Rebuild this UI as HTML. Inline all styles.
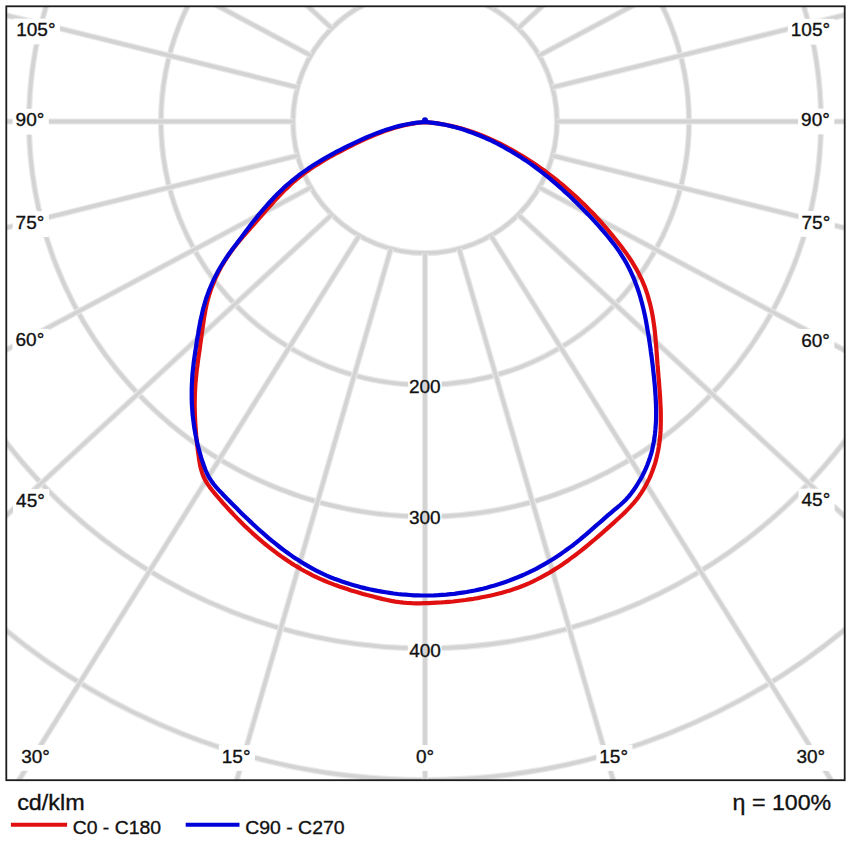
<!DOCTYPE html><html><head><meta charset="utf-8"><style>html,body{margin:0;padding:0;background:#fff;width:848px;height:848px;overflow:hidden}svg{display:block}text{font-family:"Liberation Sans",sans-serif;fill:#111;stroke:#111;stroke-width:0.35px}</style></head><body>
<svg width="848" height="848" viewBox="0 0 848 848">
<defs><clipPath id="c"><rect x="6.3" y="6.3" width="838.4000000000001" height="773.9000000000001"/></clipPath></defs>
<rect width="848" height="848" fill="#fff"/>
<g clip-path="url(#c)">
<g fill="none" stroke="#e9e9e9" stroke-width="6.2"><ellipse cx="425.0" cy="121.5" rx="132.0" ry="131.7"/><ellipse cx="425.0" cy="121.5" rx="264.0" ry="263.4"/><ellipse cx="425.0" cy="121.5" rx="396.0" ry="395.1"/><ellipse cx="425.0" cy="121.5" rx="528.0" ry="526.8"/><ellipse cx="425.0" cy="121.5" rx="660.0" ry="658.5"/><ellipse cx="425.0" cy="121.5" rx="792.0" ry="790.2"/></g>
<g fill="none" stroke="#d3d3d3" stroke-width="3.8"><ellipse cx="425.0" cy="121.5" rx="132.0" ry="131.7"/><ellipse cx="425.0" cy="121.5" rx="264.0" ry="263.4"/><ellipse cx="425.0" cy="121.5" rx="396.0" ry="395.1"/><ellipse cx="425.0" cy="121.5" rx="528.0" ry="526.8"/><ellipse cx="425.0" cy="121.5" rx="660.0" ry="658.5"/><ellipse cx="425.0" cy="121.5" rx="792.0" ry="790.2"/></g>
<rect x="408.2" y="377.7" width="33.4" height="18.2" fill="#fff"/>
<rect x="408.2" y="508.5" width="33.4" height="18.7" fill="#fff"/>
<rect x="407.8" y="641.0" width="33.8" height="18.2" fill="#fff"/>
<g fill="none" stroke="#e9e9e9" stroke-width="6.2"><line x1="425.00" y1="253.30" x2="425.00" y2="1639.30"/><line x1="390.89" y1="248.81" x2="2.66" y2="1587.58"/><line x1="459.11" y1="248.81" x2="847.34" y2="1587.58"/><line x1="359.10" y1="235.64" x2="-390.90" y2="1435.95"/><line x1="490.90" y1="235.64" x2="1240.90" y2="1435.95"/><line x1="331.80" y1="214.70" x2="-728.86" y2="1194.75"/><line x1="518.20" y1="214.70" x2="1578.86" y2="1194.75"/><line x1="310.86" y1="187.40" x2="-988.18" y2="880.40"/><line x1="539.14" y1="187.40" x2="1838.18" y2="880.40"/><line x1="297.69" y1="155.61" x2="-1151.20" y2="514.34"/><line x1="552.31" y1="155.61" x2="2001.20" y2="514.34"/><line x1="293.20" y1="121.50" x2="-1206.80" y2="121.50"/><line x1="556.80" y1="121.50" x2="2056.80" y2="121.50"/><line x1="297.69" y1="87.39" x2="-1151.20" y2="-271.34"/><line x1="552.31" y1="87.39" x2="2001.20" y2="-271.34"/><line x1="310.86" y1="55.60" x2="-988.18" y2="-637.40"/><line x1="539.14" y1="55.60" x2="1838.18" y2="-637.40"/><line x1="331.80" y1="28.30" x2="-728.86" y2="-951.75"/><line x1="518.20" y1="28.30" x2="1578.86" y2="-951.75"/><line x1="359.10" y1="7.36" x2="-390.90" y2="-1192.95"/><line x1="490.90" y1="7.36" x2="1240.90" y2="-1192.95"/><line x1="390.89" y1="-5.81" x2="2.66" y2="-1344.58"/><line x1="459.11" y1="-5.81" x2="847.34" y2="-1344.58"/><line x1="425.00" y1="-10.30" x2="425.00" y2="-1396.30"/></g>
<g fill="none" stroke="#d3d3d3" stroke-width="3.8"><line x1="425.00" y1="253.30" x2="425.00" y2="1639.30"/><line x1="390.89" y1="248.81" x2="2.66" y2="1587.58"/><line x1="459.11" y1="248.81" x2="847.34" y2="1587.58"/><line x1="359.10" y1="235.64" x2="-390.90" y2="1435.95"/><line x1="490.90" y1="235.64" x2="1240.90" y2="1435.95"/><line x1="331.80" y1="214.70" x2="-728.86" y2="1194.75"/><line x1="518.20" y1="214.70" x2="1578.86" y2="1194.75"/><line x1="310.86" y1="187.40" x2="-988.18" y2="880.40"/><line x1="539.14" y1="187.40" x2="1838.18" y2="880.40"/><line x1="297.69" y1="155.61" x2="-1151.20" y2="514.34"/><line x1="552.31" y1="155.61" x2="2001.20" y2="514.34"/><line x1="293.20" y1="121.50" x2="-1206.80" y2="121.50"/><line x1="556.80" y1="121.50" x2="2056.80" y2="121.50"/><line x1="297.69" y1="87.39" x2="-1151.20" y2="-271.34"/><line x1="552.31" y1="87.39" x2="2001.20" y2="-271.34"/><line x1="310.86" y1="55.60" x2="-988.18" y2="-637.40"/><line x1="539.14" y1="55.60" x2="1838.18" y2="-637.40"/><line x1="331.80" y1="28.30" x2="-728.86" y2="-951.75"/><line x1="518.20" y1="28.30" x2="1578.86" y2="-951.75"/><line x1="359.10" y1="7.36" x2="-390.90" y2="-1192.95"/><line x1="490.90" y1="7.36" x2="1240.90" y2="-1192.95"/><line x1="390.89" y1="-5.81" x2="2.66" y2="-1344.58"/><line x1="459.11" y1="-5.81" x2="847.34" y2="-1344.58"/><line x1="425.00" y1="-10.30" x2="425.00" y2="-1396.30"/></g>
<rect x="13.2" y="18.6" width="46.8" height="25.8" fill="#fff"/>
<rect x="12.6" y="108.8" width="36.2" height="25.8" fill="#fff"/>
<rect x="12.6" y="211.2" width="36.2" height="25.8" fill="#fff"/>
<rect x="12.5" y="328.8" width="36.2" height="25.8" fill="#fff"/>
<rect x="13.1" y="489.0" width="36.2" height="25.8" fill="#fff"/>
<rect x="18.2" y="745.0" width="36.2" height="25.8" fill="#fff"/>
<rect x="218.8" y="745.0" width="36.2" height="25.8" fill="#fff"/>
<rect x="413.0" y="745.1" width="25.7" height="25.8" fill="#fff"/>
<rect x="787.8" y="18.8" width="46.8" height="25.8" fill="#fff"/>
<rect x="798.1" y="108.6" width="36.2" height="25.8" fill="#fff"/>
<rect x="798.5" y="211.0" width="36.2" height="25.8" fill="#fff"/>
<rect x="798.2" y="328.9" width="36.2" height="25.8" fill="#fff"/>
<rect x="798.5" y="488.7" width="36.2" height="25.8" fill="#fff"/>
<rect x="793.4" y="745.1" width="36.2" height="25.8" fill="#fff"/>
<rect x="596.3" y="745.1" width="36.2" height="25.8" fill="#fff"/>
</g>
<text x="408.9" y="393.3" font-size="19">200</text>
<text x="408.9" y="524.4" font-size="19">300</text>
<text x="409.2" y="656.6" font-size="19">400</text>
<text x="16.2" y="36.2" font-size="19">105°</text>
<text x="15.6" y="126.4" font-size="19">90°</text>
<text x="15.6" y="228.8" font-size="19">75°</text>
<text x="15.5" y="346.4" font-size="19">60°</text>
<text x="16.1" y="506.6" font-size="19">45°</text>
<text x="21.2" y="762.6" font-size="19">30°</text>
<text x="221.8" y="762.6" font-size="19">15°</text>
<text x="416.0" y="762.7" font-size="19">0°</text>
<text x="790.8" y="36.4" font-size="19">105°</text>
<text x="801.1" y="126.2" font-size="19">90°</text>
<text x="801.5" y="228.6" font-size="19">75°</text>
<text x="801.2" y="346.5" font-size="19">60°</text>
<text x="801.5" y="506.3" font-size="19">45°</text>
<text x="796.4" y="762.8" font-size="19">30°</text>
<text x="599.3" y="762.8" font-size="19">15°</text>
<polyline points="425.0,122.2 420.8,122.5 416.7,123.0 412.6,123.6 408.5,124.4 404.5,125.2 400.5,126.2 396.5,127.3 392.5,128.5 388.6,129.7 384.7,131.1 380.9,132.5 377.0,134.0 373.2,135.6 369.4,137.2 365.6,138.9 361.8,140.6 358.1,142.4 354.3,144.2 350.6,146.1 346.9,148.0 343.2,149.8 339.5,151.8 335.8,153.7 332.2,155.7 328.5,157.7 325.0,159.8 321.4,161.9 317.9,164.1 314.4,166.3 311.0,168.6 307.6,170.9 304.2,173.3 301.0,175.8 297.8,178.4 294.6,181.0 291.5,183.8 288.5,186.6 285.5,189.4 282.6,192.4 279.7,195.3 276.9,198.4 274.0,201.4 271.3,204.5 268.5,207.6 265.7,210.7 263.0,213.9 260.2,217.0 257.5,220.1 254.7,223.3 252.0,226.4 249.2,229.5 246.5,232.6 243.8,235.7 241.1,238.9 238.4,242.0 235.9,245.3 233.3,248.5 230.9,251.8 228.5,255.2 226.2,258.6 224.0,262.1 221.9,265.6 219.9,269.3 218.0,273.0 216.2,276.7 214.5,280.5 212.9,284.4 211.4,288.2 210.1,292.2 208.8,296.1 207.7,300.1 206.7,304.1 205.8,308.2 205.1,312.2 204.3,316.3 203.7,320.4 203.1,324.5 202.5,328.6 201.9,332.7 201.4,336.8 200.8,340.9 200.2,345.0 199.7,349.1 199.1,353.2 198.5,357.3 197.9,361.4 197.4,365.6 196.8,369.7 196.4,373.8 196.0,377.9 195.6,382.0 195.3,386.1 195.1,390.2 194.9,394.4 194.8,398.5 194.7,402.6 194.7,406.7 194.8,410.9 194.9,415.0 195.1,419.1 195.3,423.3 195.6,427.4 195.9,431.5 196.2,435.7 196.6,439.8 197.1,444.0 197.6,448.1 198.1,452.3 198.7,456.4 199.3,460.6 200.0,464.7 200.9,468.7 202.1,472.7 203.5,476.5 205.2,480.1 207.3,483.6 209.6,486.9 212.1,490.2 214.7,493.4 217.3,496.5 220.1,499.7 222.8,502.8 225.6,505.9 228.4,509.0 231.2,512.0 234.1,515.1 237.0,518.1 239.9,521.0 242.8,524.0 245.8,526.9 248.9,529.7 251.9,532.6 255.0,535.4 258.1,538.1 261.3,540.8 264.4,543.5 267.7,546.1 270.9,548.7 274.2,551.2 277.5,553.7 280.9,556.1 284.3,558.5 287.7,560.8 291.1,563.1 294.6,565.3 298.2,567.4 301.7,569.5 305.3,571.5 309.0,573.4 312.6,575.3 316.3,577.1 320.1,578.9 323.9,580.5 327.7,582.1 331.5,583.6 335.4,585.1 339.3,586.5 343.2,587.8 347.2,589.1 351.1,590.4 355.1,591.6 359.1,592.7 363.1,593.9 367.1,595.0 371.1,596.0 375.1,597.1 379.1,598.1 383.1,599.1 387.2,600.0 391.2,600.9 395.3,601.6 399.4,602.2 403.5,602.7 407.6,603.0 411.8,603.2 415.9,603.3 420.0,603.3 424.2,603.2 428.3,603.1 432.5,602.9 436.6,602.7 440.7,602.5 444.9,602.2 449.0,601.8 453.1,601.5 457.2,601.0 461.3,600.5 465.4,600.0 469.5,599.4 473.6,598.8 477.7,598.1 481.8,597.3 485.9,596.5 489.9,595.7 494.0,594.8 498.0,593.8 502.1,592.7 506.1,591.6 510.0,590.4 514.0,589.1 517.9,587.7 521.8,586.2 525.6,584.7 529.4,583.1 533.1,581.4 536.8,579.5 540.5,577.7 544.1,575.7 547.7,573.7 551.2,571.6 554.7,569.4 558.2,567.2 561.7,564.9 565.1,562.6 568.5,560.2 571.8,557.7 575.2,555.2 578.5,552.7 581.7,550.1 585.0,547.5 588.2,544.9 591.4,542.2 594.6,539.5 597.7,536.8 600.9,534.1 604.0,531.4 607.1,528.6 610.2,525.9 613.3,523.1 616.4,520.3 619.4,517.5 622.4,514.7 625.4,511.9 628.3,508.9 631.1,505.9 633.8,502.9 636.4,499.7 638.9,496.4 641.3,492.9 643.5,489.4 645.6,485.8 647.5,482.1 649.4,478.4 651.0,474.6 652.5,470.7 653.9,466.8 655.2,462.9 656.3,458.9 657.2,454.9 658.1,450.9 658.8,446.8 659.4,442.7 659.9,438.6 660.3,434.5 660.6,430.4 660.7,426.2 660.8,422.1 660.8,417.9 660.8,413.8 660.7,409.6 660.5,405.5 660.3,401.3 660.1,397.2 659.8,393.0 659.5,388.9 659.2,384.8 658.9,380.7 658.5,376.6 658.2,372.4 657.9,368.3 657.5,364.2 657.2,360.1 656.9,356.0 656.6,351.8 656.3,347.7 655.9,343.6 655.6,339.4 655.2,335.3 654.8,331.2 654.3,327.0 653.7,322.9 653.1,318.8 652.4,314.7 651.6,310.7 650.7,306.6 649.7,302.6 648.6,298.6 647.5,294.7 646.2,290.8 644.8,286.9 643.2,283.1 641.6,279.3 639.8,275.6 637.9,271.9 635.9,268.3 633.8,264.8 631.6,261.2 629.3,257.8 627.0,254.3 624.5,251.0 622.0,247.6 619.5,244.3 616.9,241.0 614.3,237.8 611.7,234.5 609.0,231.3 606.3,228.2 603.6,225.0 600.9,221.9 598.1,218.9 595.3,215.8 592.4,212.8 589.5,209.9 586.6,206.9 583.7,204.0 580.7,201.2 577.7,198.3 574.7,195.5 571.6,192.8 568.5,190.0 565.4,187.4 562.3,184.7 559.1,182.1 555.9,179.5 552.6,177.0 549.3,174.4 546.0,172.0 542.7,169.5 539.3,167.2 535.9,164.8 532.5,162.5 529.0,160.2 525.5,158.0 522.0,155.8 518.4,153.7 514.8,151.6 511.2,149.5 507.5,147.5 503.9,145.6 500.2,143.7 496.4,141.9 492.6,140.1 488.9,138.4 485.0,136.8 481.2,135.2 477.3,133.7 473.4,132.3 469.5,131.0 465.6,129.7 461.6,128.5 457.6,127.4 453.6,126.5 449.6,125.5 445.5,124.7 441.5,124.0 437.4,123.4 433.3,122.9 429.1,122.5 425.0,122.2" fill="none" stroke="#e01010" stroke-width="4.2" stroke-linejoin="round" stroke-linecap="round"/>
<polyline points="425.0,122.0 420.9,122.3 416.8,122.7 412.7,123.3 408.7,124.0 404.7,124.8 400.8,125.6 396.8,126.6 392.9,127.7 389.0,128.9 385.2,130.1 381.4,131.5 377.5,132.9 373.8,134.4 370.0,135.9 366.2,137.5 362.5,139.2 358.8,140.9 355.1,142.6 351.4,144.4 347.7,146.2 344.1,148.0 340.4,149.8 336.8,151.7 333.2,153.6 329.6,155.6 326.0,157.6 322.5,159.6 319.0,161.7 315.6,163.8 312.1,166.0 308.7,168.3 305.4,170.6 302.1,172.9 298.8,175.3 295.6,177.8 292.4,180.4 289.3,183.0 286.2,185.7 283.2,188.4 280.3,191.2 277.4,194.1 274.5,197.0 271.7,200.0 268.9,203.0 266.2,206.1 263.5,209.2 260.8,212.3 258.2,215.4 255.7,218.6 253.1,221.8 250.6,225.0 248.2,228.2 245.7,231.5 243.3,234.7 240.9,238.0 238.4,241.2 236.0,244.4 233.5,247.7 231.1,251.0 228.7,254.3 226.4,257.7 224.1,261.1 222.0,264.5 219.9,268.0 217.9,271.6 216.0,275.2 214.1,278.9 212.4,282.6 210.8,286.3 209.2,290.1 207.8,293.9 206.4,297.7 205.2,301.6 204.1,305.5 203.0,309.4 202.1,313.4 201.2,317.4 200.3,321.3 199.6,325.3 198.8,329.4 198.2,333.4 197.5,337.4 196.8,341.4 196.2,345.5 195.6,349.5 195.0,353.6 194.4,357.6 193.8,361.7 193.4,365.7 192.9,369.8 192.5,373.8 192.2,377.9 192.0,382.0 191.8,386.0 191.7,390.1 191.7,394.2 191.7,398.2 191.8,402.3 192.0,406.4 192.3,410.4 192.6,414.5 193.1,418.5 193.6,422.5 194.1,426.6 194.8,430.6 195.5,434.6 196.3,438.6 197.2,442.6 198.1,446.6 199.2,450.5 200.3,454.5 201.4,458.4 202.7,462.3 204.1,466.2 205.5,470.0 207.1,473.8 209.0,477.3 211.2,480.7 213.5,484.0 216.1,487.1 218.8,490.1 221.6,493.0 224.4,496.0 227.3,498.9 230.1,501.8 233.0,504.7 235.9,507.6 238.8,510.5 241.7,513.4 244.6,516.2 247.6,519.1 250.6,521.9 253.6,524.7 256.6,527.5 259.6,530.2 262.7,532.9 265.8,535.6 268.9,538.3 272.0,540.9 275.2,543.4 278.4,546.0 281.6,548.5 284.8,550.9 288.1,553.3 291.4,555.6 294.8,557.9 298.2,560.1 301.6,562.3 305.1,564.4 308.6,566.4 312.1,568.4 315.7,570.3 319.3,572.1 323.0,573.9 326.7,575.6 330.4,577.2 334.2,578.7 338.1,580.1 341.9,581.5 345.8,582.8 349.8,584.1 353.7,585.2 357.7,586.3 361.6,587.4 365.6,588.4 369.6,589.3 373.6,590.1 377.6,590.9 381.6,591.6 385.7,592.3 389.7,592.9 393.7,593.5 397.7,594.0 401.7,594.4 405.8,594.7 409.8,595.0 413.8,595.3 417.9,595.4 421.9,595.5 426.0,595.5 430.0,595.5 434.1,595.4 438.2,595.2 442.2,594.9 446.3,594.6 450.4,594.2 454.4,593.8 458.5,593.2 462.6,592.6 466.6,592.0 470.6,591.3 474.7,590.5 478.7,589.6 482.7,588.7 486.7,587.7 490.6,586.6 494.6,585.5 498.5,584.3 502.4,583.0 506.2,581.7 510.1,580.3 513.9,578.8 517.7,577.3 521.4,575.7 525.1,574.1 528.8,572.4 532.5,570.6 536.1,568.8 539.6,566.9 543.2,564.9 546.7,562.9 550.2,560.8 553.6,558.7 557.0,556.5 560.4,554.2 563.7,551.9 567.0,549.5 570.3,547.1 573.6,544.7 576.8,542.1 579.9,539.6 583.1,536.9 586.2,534.3 589.3,531.6 592.4,528.9 595.5,526.2 598.6,523.5 601.7,520.8 604.7,518.1 607.8,515.4 610.9,512.8 614.0,510.2 617.1,507.6 620.2,505.0 623.2,502.3 626.1,499.4 628.8,496.4 631.3,493.2 633.7,489.9 636.1,486.5 638.2,483.0 640.3,479.5 642.3,475.9 644.1,472.3 645.8,468.6 647.4,464.8 648.8,461.0 650.1,457.2 651.3,453.3 652.3,449.4 653.1,445.4 653.9,441.4 654.5,437.4 655.0,433.4 655.4,429.4 655.7,425.3 656.0,421.2 656.1,417.1 656.1,413.0 656.1,408.9 656.0,404.8 655.8,400.7 655.6,396.6 655.3,392.5 655.0,388.4 654.7,384.3 654.3,380.2 653.9,376.2 653.4,372.1 653.0,368.1 652.5,364.1 652.0,360.1 651.5,356.1 650.9,352.1 650.4,348.0 649.8,344.0 649.2,340.0 648.6,336.0 647.9,332.0 647.2,327.9 646.5,323.9 645.8,319.9 645.0,315.9 644.1,311.9 643.2,307.9 642.2,303.9 641.1,300.0 640.0,296.0 638.8,292.1 637.5,288.3 636.1,284.4 634.6,280.6 633.1,276.9 631.4,273.1 629.7,269.5 627.8,265.8 625.9,262.3 623.9,258.8 621.7,255.3 619.5,251.9 617.2,248.6 614.8,245.3 612.3,242.1 609.8,238.9 607.2,235.7 604.6,232.6 601.9,229.5 599.2,226.4 596.5,223.4 593.7,220.4 590.9,217.4 588.1,214.4 585.2,211.5 582.4,208.6 579.5,205.7 576.6,202.8 573.6,199.9 570.7,197.1 567.7,194.3 564.7,191.6 561.7,188.8 558.7,186.1 555.6,183.4 552.5,180.8 549.4,178.2 546.2,175.7 543.0,173.1 539.8,170.6 536.6,168.2 533.3,165.8 530.0,163.4 526.7,161.1 523.3,158.9 519.9,156.6 516.4,154.5 513.0,152.4 509.5,150.3 505.9,148.3 502.4,146.3 498.7,144.4 495.1,142.5 491.4,140.7 487.7,139.0 483.9,137.3 480.2,135.7 476.4,134.2 472.5,132.7 468.7,131.4 464.8,130.0 460.9,128.8 457.0,127.7 453.0,126.6 449.0,125.7 445.1,124.8 441.1,124.1 437.1,123.4 433.1,122.8 429.0,122.4 425.0,122.0" fill="none" stroke="#0000d8" stroke-width="4.2" stroke-linejoin="round" stroke-linecap="round"/>
<circle cx="425" cy="120.3" r="3" fill="#0000d8"/>
<rect x="6.3" y="6.3" width="838.4000000000001" height="773.9000000000001" fill="none" stroke="#1c1c1c" stroke-width="1.8"/>
<text x="17.2" y="810.2" font-size="22.3" textLength="67.4" lengthAdjust="spacingAndGlyphs">cd/klm</text>
<text x="732.6" y="810.1" font-size="21.8" textLength="98.6" lengthAdjust="spacingAndGlyphs">η = 100%</text>
<line x1="10.9" y1="824.7" x2="67.1" y2="824.7" stroke="#e01010" stroke-width="4"/>
<text x="72.7" y="834.2" font-size="19.2" textLength="88.4" lengthAdjust="spacingAndGlyphs">C0 - C180</text>
<line x1="185.7" y1="824.8" x2="239.5" y2="824.8" stroke="#0000d8" stroke-width="4"/>
<text x="245.2" y="834.1" font-size="19.2" textLength="99.4" lengthAdjust="spacingAndGlyphs">C90 - C270</text>
</svg></body></html>
